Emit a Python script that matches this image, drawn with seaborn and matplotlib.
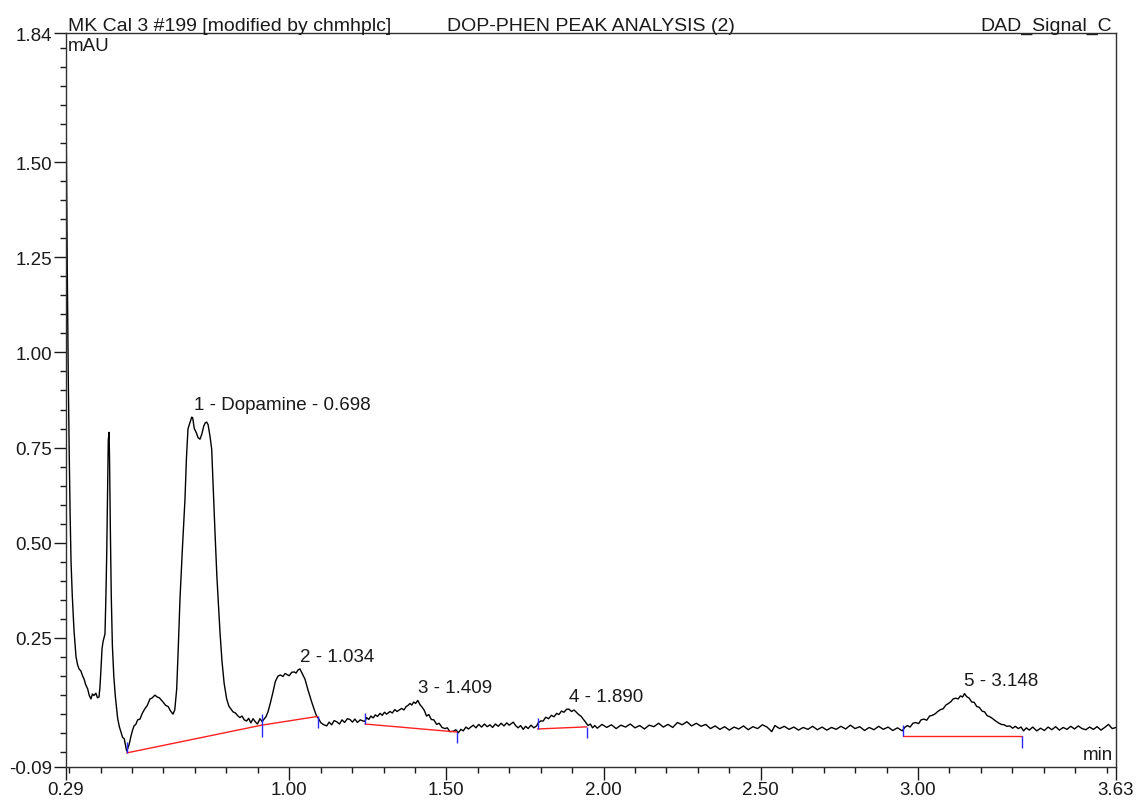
import numpy as np
import pandas as pd
import matplotlib
matplotlib.use("Agg")
import matplotlib.pyplot as plt
from matplotlib.ticker import FixedLocator, FixedFormatter, MultipleLocator
import seaborn as sns

# ---------------- chromatogram trace (time in min, signal in mAU) ----------------
# solvent front and the early spike
front_t = [0.2905, 0.2938, 0.2970, 0.3000, 0.303, 0.306, 0.310, 0.3154, 0.3218, 0.3265,
           0.3313, 0.337, 0.3431, 0.348, 0.352, 0.359, 0.364, 0.3695, 0.374, 0.379,
           0.385, 0.390, 0.395, 0.398, 0.4013, 0.4045, 0.4077, 0.411, 0.414, 0.417,
           0.4195, 0.422, 0.4245, 0.427, 0.4285, 0.431, 0.434, 0.4375, 0.442, 0.4468,
           0.4544, 0.460, 0.4649, 0.470, 0.4754, 0.479, 0.483, 0.487, 0.491, 0.4967,
           0.501, 0.5063, 0.512, 0.518, 0.5254]
front_v = [1.61, 1.24, 0.95, 0.75, 0.58, 0.45, 0.36, 0.27, 0.20, 0.18,
           0.168, 0.163, 0.149, 0.140, 0.128, 0.115, 0.098, 0.089, 0.102, 0.098,
           0.104, 0.092, 0.094, 0.120, 0.168, 0.220, 0.239, 0.250, 0.260, 0.360,
           0.470, 0.620, 0.770, 0.790, 0.720, 0.540, 0.360, 0.230, 0.150, 0.097,
           0.037, 0.015, 0.002, -0.012, -0.016, -0.032, -0.048, -0.040, -0.030, -0.009,
           0.005, 0.018, 0.022, 0.034, 0.036]

# shoulder and dopamine peak
dopamine_t = [0.532, 0.540, 0.548, 0.5572, 0.563, 0.5731, 0.580, 0.587, 0.5985, 0.607,
              0.615, 0.622, 0.6303, 0.636, 0.6421, 0.647, 0.6526, 0.660, 0.6685, 0.673,
              0.678, 0.684, 0.690, 0.693, 0.698, 0.704, 0.710, 0.7162, 0.722, 0.728,
              0.733, 0.7375, 0.742, 0.748, 0.7534, 0.758, 0.7639, 0.770, 0.7798, 0.786,
              0.793, 0.8011, 0.808, 0.8212, 0.829, 0.836, 0.843, 0.850, 0.857, 0.8647]
dopamine_v = [0.050, 0.062, 0.071, 0.089, 0.091, 0.099, 0.094, 0.092, 0.081, 0.072,
              0.069, 0.058, 0.049, 0.060, 0.115, 0.220, 0.352, 0.480, 0.615, 0.720,
              0.799, 0.815, 0.830, 0.828, 0.800, 0.790, 0.776, 0.772, 0.785, 0.806,
              0.815, 0.817, 0.810, 0.780, 0.746, 0.650, 0.528, 0.410, 0.265, 0.190,
              0.130, 0.089, 0.070, 0.055, 0.052, 0.045, 0.040, 0.044, 0.034, 0.031]

# peak 2
peak2_t = [0.871, 0.878, 0.885, 0.892, 0.899, 0.907, 0.914, 0.920, 0.926, 0.9325,
           0.940, 0.9484, 0.956, 0.9643, 0.972, 0.980, 0.987, 0.9929, 1.000, 1.008,
           1.016, 1.022, 1.028, 1.034, 1.040, 1.0502, 1.060, 1.0715, 1.080, 1.0874,
           1.093, 1.100, 1.108, 1.1192, 1.127, 1.135, 1.143, 1.151, 1.160, 1.168,
           1.176, 1.185, 1.1933, 1.201, 1.209, 1.217, 1.226, 1.2347]
peak2_v = [0.038, 0.026, 0.037, 0.029, 0.023, 0.037, 0.029, 0.036, 0.042, 0.055,
           0.078, 0.107, 0.135, 0.149, 0.152, 0.148, 0.156, 0.153, 0.150, 0.159,
           0.160, 0.157, 0.165, 0.168, 0.158, 0.141, 0.112, 0.081, 0.060, 0.043,
           0.038, 0.027, 0.022, 0.018, 0.028, 0.021, 0.032, 0.029, 0.023, 0.034,
           0.027, 0.037, 0.035, 0.028, 0.036, 0.027, 0.034, 0.031]

# peak 3
peak3_t = [1.241, 1.246, 1.253, 1.260, 1.267, 1.274, 1.281, 1.289, 1.296, 1.303,
           1.310, 1.3205, 1.328, 1.336, 1.343, 1.3577, 1.365, 1.372, 1.378, 1.384,
           1.390, 1.396, 1.402, 1.409, 1.416, 1.422, 1.429, 1.437, 1.444, 1.452,
           1.460, 1.469, 1.477, 1.486, 1.4955, 1.503, 1.511, 1.522, 1.530, 1.538,
           1.546, 1.5537]
peak3_v = [0.030, 0.040, 0.035, 0.044, 0.039, 0.047, 0.043, 0.051, 0.046, 0.054,
           0.049, 0.056, 0.052, 0.061, 0.056, 0.064, 0.060, 0.069, 0.072, 0.077,
           0.073, 0.081, 0.077, 0.085, 0.074, 0.068, 0.060, 0.044, 0.048, 0.035,
           0.034, 0.022, 0.025, 0.014, 0.011, 0.013, 0.003, 0.004, 0.008, 0.000,
           0.009, 0.005]

# peak 4
peak4_t = [1.562, 1.570, 1.5855, 1.594, 1.603, 1.612, 1.621, 1.630, 1.6386, 1.647,
           1.656, 1.665, 1.674, 1.683, 1.692, 1.700, 1.7127, 1.720, 1.728, 1.736,
           1.7445, 1.752, 1.760, 1.769, 1.778, 1.787, 1.792, 1.800, 1.808, 1.816,
           1.825, 1.834, 1.842, 1.8507, 1.858, 1.866, 1.874, 1.8826, 1.890, 1.898,
           1.906, 1.9144, 1.922, 1.929, 1.935, 1.941, 1.946, 1.951, 1.958, 1.965,
           1.972]
peak4_v = [0.015, 0.010, 0.020, 0.013, 0.022, 0.015, 0.023, 0.016, 0.021, 0.014,
           0.023, 0.017, 0.025, 0.018, 0.026, 0.020, 0.028, 0.019, 0.013, 0.019,
           0.009, 0.017, 0.011, 0.020, 0.013, 0.018, 0.026, 0.031, 0.031, 0.041,
           0.037, 0.046, 0.042, 0.051, 0.048, 0.057, 0.054, 0.062, 0.062, 0.056,
           0.060, 0.053, 0.047, 0.043, 0.036, 0.030, 0.024, 0.019, 0.023, 0.013,
           0.019]

# quiet baseline between peaks 4 and 5
flat_t = [1.980, 1.995, 2.010, 2.025, 2.040, 2.055, 2.070, 2.085, 2.100, 2.115,
          2.130, 2.145, 2.160, 2.175, 2.190, 2.205, 2.220, 2.235, 2.250, 2.265,
          2.280, 2.295, 2.310, 2.325, 2.340, 2.355, 2.370, 2.385, 2.400, 2.415,
          2.430, 2.445, 2.460, 2.475, 2.490, 2.505, 2.520, 2.535, 2.545, 2.560,
          2.575, 2.590, 2.605, 2.620, 2.635, 2.650, 2.665, 2.680, 2.695, 2.710,
          2.725, 2.740, 2.755, 2.770, 2.785, 2.800, 2.815, 2.830, 2.845, 2.860,
          2.875, 2.890, 2.905, 2.920, 2.935, 2.950]
flat_v = [0.012, 0.022, 0.014, 0.021, 0.011, 0.020, 0.015, 0.023, 0.013, 0.019,
          0.010, 0.020, 0.016, 0.025, 0.015, 0.022, 0.014, 0.027, 0.021, 0.029,
          0.018, 0.025, 0.017, 0.022, 0.011, 0.018, 0.009, 0.016, 0.007, 0.015,
          0.010, 0.018, 0.008, 0.016, 0.011, 0.021, 0.015, 0.003, 0.019, 0.011,
          0.017, 0.009, 0.015, 0.007, 0.014, 0.009, 0.017, 0.008, 0.015, 0.007,
          0.014, 0.009, 0.017, 0.010, 0.020, 0.011, 0.016, 0.006, 0.014, 0.008,
          0.017, 0.009, 0.015, 0.006, 0.013, 0.005]

# peak 5 and the tail of the run
peak5_t = [2.958, 2.966, 2.975, 2.984, 2.993, 3.002, 3.010, 3.019, 3.028, 3.037,
           3.046, 3.055, 3.063, 3.072, 3.080, 3.089, 3.097, 3.105, 3.112, 3.120,
           3.128, 3.135, 3.142, 3.148, 3.155, 3.163, 3.171, 3.179, 3.187, 3.195,
           3.204, 3.212, 3.220, 3.229, 3.238, 3.247, 3.256, 3.265, 3.274, 3.283,
           3.292, 3.301, 3.310, 3.319, 3.328, 3.336, 3.345, 3.354, 3.365, 3.378,
           3.390, 3.402, 3.414, 3.426, 3.438, 3.450, 3.462, 3.474, 3.486, 3.498,
           3.510, 3.522, 3.534, 3.546, 3.558, 3.570, 3.582, 3.594, 3.606, 3.618,
           3.630]
peak5_v = [0.014, 0.019, 0.015, 0.025, 0.027, 0.024, 0.034, 0.036, 0.033, 0.044,
           0.046, 0.050, 0.056, 0.061, 0.063, 0.073, 0.077, 0.082, 0.089, 0.091,
           0.089, 0.097, 0.094, 0.103, 0.095, 0.091, 0.081, 0.080, 0.069, 0.067,
           0.057, 0.055, 0.045, 0.042, 0.037, 0.031, 0.026, 0.022, 0.021, 0.017,
           0.018, 0.012, 0.017, 0.011, 0.015, 0.005, 0.013, 0.007, 0.015, 0.005,
           0.012, 0.006, 0.015, 0.008, 0.016, 0.007, 0.014, 0.009, 0.017, 0.010,
           0.018, 0.011, 0.008, 0.015, 0.009, 0.016, 0.007, 0.014, 0.022, 0.011,
           0.014]

# ---------------- integration results ----------------
peak_labels = ["1 - Dopamine - 0.698", "2 - 1.034", "3 - 1.409", "4 - 1.890", "5 - 3.148"]
peak_rt = [0.698, 1.034, 1.409, 1.890, 3.148]
base_start_t = [0.483, 0.9125, 1.241, 1.790, 2.951]
base_start_v = [-0.053, 0.020, 0.023, 0.010, -0.009]
base_end_t = [0.9125, 1.0906, 1.533, 1.946, 3.330]
base_end_v = [0.020, 0.043, 0.002, 0.0155, -0.009]

# ---------------- axes ----------------
x_ticks = [0.29, 1.00, 1.50, 2.00, 2.50, 3.00, 3.63]
x_tick_labels = ["0.29", "1.00", "1.50", "2.00", "2.50", "3.00", "3.63"]
y_ticks = [-0.09, 0.25, 0.50, 0.75, 1.00, 1.25, 1.50, 1.84]
y_tick_labels = ["-0.09", "0.25", "0.50", "0.75", "1.00", "1.25", "1.50", "1.84"]

header_left = "MK Cal 3 #199 [modified by chmhplc]"
header_mid = "DOP-PHEN PEAK ANALYSIS (2)"
header_right = "DAD_Signal_C"

sns.set_style("ticks")
plt.rcParams["font.family"] = ["Liberation Sans", "DejaVu Sans"]
FS = 13.5
FS_HEAD = 14
INK = "#1a1a1a"

trace = pd.DataFrame({
    "t": np.concatenate([front_t, dopamine_t, peak2_t, peak3_t, peak4_t, flat_t, peak5_t]),
    "v": np.concatenate([front_v, dopamine_v, peak2_v, peak3_v, peak4_v, flat_v, peak5_v]),
})

W, H = 1138, 804
fig = plt.figure(figsize=(W / 100, H / 100), dpi=100)
ax = fig.add_axes([66 / W, 1 - 768 / H, 1050 / W, 734 / H])

sns.lineplot(data=trace, x="t", y="v", color="black", linewidth=1.0,
             estimator=None, sort=False, ax=ax)

# integration baselines and peak delimiters
tick_h = 0.03
for t0, v0, t1, v1 in zip(base_start_t, base_start_v, base_end_t, base_end_v):
    ax.plot([t0, t1], [v0, v1], color="#ff2020", linewidth=1.0, zorder=3)
    ax.vlines(t0, v0, v0 + tick_h, color="#2a2aff", linewidth=1.0, zorder=4)
    ax.vlines(t1, v1 - tick_h, v1, color="#2a2aff", linewidth=1.0, zorder=4)

# peak annotations placed at the retention time, just above the apex
for label, rt in zip(peak_labels, peak_rt):
    win = trace[(trace.t >= rt - 0.03) & (trace.t <= rt + 0.03)]
    apex = win.v.max()
    ax.annotate(label, (rt, apex), xytext=(0, 6), textcoords="offset points",
                ha="left", va="baseline", fontsize=FS, color=INK)

ax.set_xlim(0.29, 3.63)
ax.set_ylim(-0.09, 1.84)
ax.set_xlabel("")
ax.set_ylabel("")

ax.xaxis.set_major_locator(FixedLocator(x_ticks))
ax.xaxis.set_major_formatter(FixedFormatter(x_tick_labels))
ax.xaxis.set_minor_locator(MultipleLocator(0.1))
ax.yaxis.set_major_locator(FixedLocator(y_ticks))
ax.yaxis.set_major_formatter(FixedFormatter(y_tick_labels))
ax.yaxis.set_minor_locator(MultipleLocator(0.05))

ax.tick_params(which="major", direction="out", length=9, width=1.0,
               color=INK, labelsize=FS, labelcolor=INK)
ax.tick_params(which="minor", direction="out", length=4, width=1.0, color=INK)
ax.tick_params(axis="y", which="major", pad=1)
ax.tick_params(axis="x", which="major", pad=1)

for side in ["left", "bottom", "top", "right"]:
    ax.spines[side].set_visible(True)
    ax.spines[side].set_color("#303030")
    ax.spines[side].set_linewidth(1.0)

# header line above the plot frame
ax.annotate(header_left, (0.002, 1.0), xycoords="axes fraction", xytext=(0, 2),
            textcoords="offset points", ha="left", va="baseline", fontsize=FS_HEAD, color=INK)
ax.annotate(header_mid, (0.5, 1.0), xycoords="axes fraction", xytext=(0, 2),
            textcoords="offset points", ha="center", va="baseline", fontsize=FS_HEAD, color=INK)
ax.annotate(header_right, (0.996, 1.0), xycoords="axes fraction", xytext=(0, 2),
            textcoords="offset points", ha="right", va="baseline", fontsize=FS_HEAD, color=INK)

# unit labels inside the frame
ax.text(0.002, 0.994, "mAU", transform=ax.transAxes, ha="left", va="top",
        fontsize=FS, color=INK)
ax.text(0.997, 0.006, "min", transform=ax.transAxes, ha="right", va="bottom",
        fontsize=FS, color=INK)

fig.savefig("out.png", dpi=100)
